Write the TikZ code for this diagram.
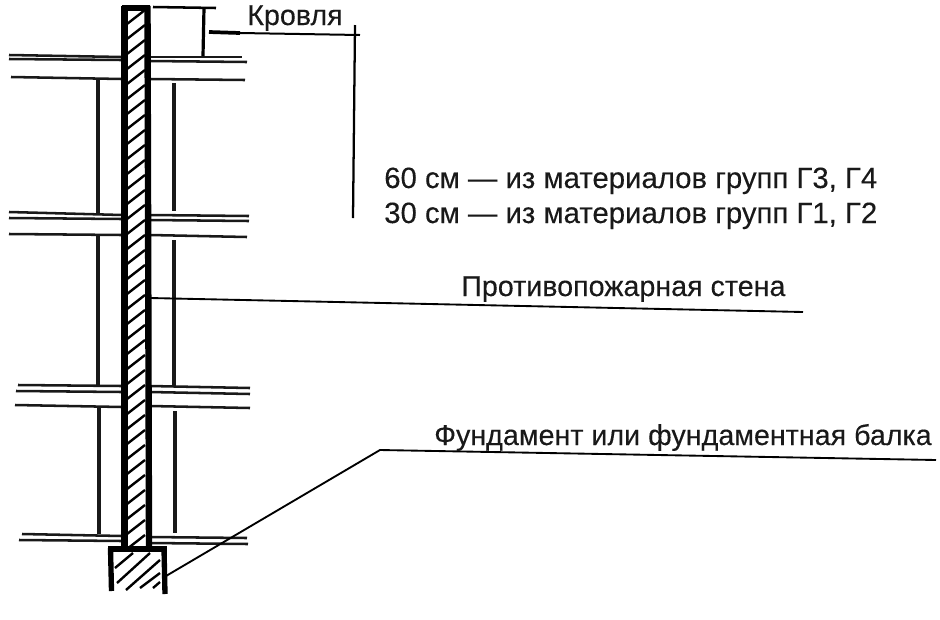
\documentclass[tikz,border=0pt]{standalone}
\usepackage{fontspec}
\setmainfont{Liberation Sans}
\newfontfamily\labfont[FakeBold=0.25]{Liberation Sans}
\tikzset{
  beam/.style={line width=1.9pt,black!90},
  post/.style={line width=2.3pt,black!90},
  thinl/.style={line width=1.4pt,black},
  wallside/.style={line width=4.8pt,black},
  hatchl/.style={line width=1.8pt,black},
  lab/.style={anchor=base west,inner sep=0pt,font=\labfont\fontsize{21.5}{24}\selectfont,text=black!90}
}
\begin{document}
\begin{tikzpicture}[x=0.75pt,y=-0.75pt]
\useasboundingbox (0,0) rectangle (940,619);
% floors
\foreach \xa/\ya/\xb/\yb in {
 9/55/122/57, 9/59/122/60, 11/77/122/79,
 150/57/242/57, 150/61/247/62, 150/79/245/80,
 9/212/122/215, 9/218/122/219, 9/234/122/235,
 150/215/249/216, 150/220/249/221, 150/235/247/237,
 18/385/122/386, 16/391/122/392, 15/405/122/407,
 150/386/250/388, 150/392/250/394, 150/406/250/408,
 22/534/122/536, 19/540/122/541,
 150/537/247/538, 150/543/248/544}
 \draw[beam] (\xa,\ya) -- (\xb,\yb);
% posts
\foreach \xa/\ya/\xb/\yb in {
 98/80/98/213, 98/236/98/385, 99/406/99/534,
 174/83/174/211, 174/240/174/386, 175/411/175/533}
 \draw[post] (\xa,\ya) -- (\xb,\yb);
% wall hatch
\begin{scope}
\clip (126,8) rectangle (146,548);
\foreach \y in {24,39,...,564}
  \draw[hatchl] (127,\y) -- (145,\y-14);
\end{scope}
% wall
\draw[wallside] (124.5,6) -- (124.5,548);
\draw[wallside] (147.5,6) -- (149,548);
\draw[wallside] (122,8) -- (150,8);
% foundation
\foreach \xa/\ya/\xb/\yb in {
 115/568/133/553, 117/583/150/553, 126/590/160/560, 140/588/160/573, 153/588/160/582}
 \draw[hatchl] (\xa,\ya) -- (\xb,\yb);
\draw[line width=4pt] (110.5,548) -- (111.5,591);
\draw[line width=4pt] (164,548) -- (165,594);
\draw[line width=3.8pt] (108,549) -- (167,549);
% dimension
\coordinate (dl) at (153,7);
\coordinate (dr) at (216,8);
\coordinate (dt) at (204,8);
\coordinate (db) at (203,56);
\coordinate (la) at (209,32);
\coordinate (lm) at (240,33);
\coordinate (lb) at (360,35);
\coordinate (vt) at (355,25);
\coordinate (vb) at (353,218);
\draw[line width=1.9pt] (dl) -- (dr);
\draw[line width=2.4pt] (dt) -- (db);
\draw[line width=2.8pt] (la) -- (lm);
\draw[line width=1.5pt] (lm) -- (lb);
\draw[line width=1.7pt] (vt) -- (vb);
% leaders
\coordinate (w1) at (150,298);
\coordinate (w2) at (803,312);
\draw[thinl] (w1) -- (w2);
\coordinate (f1) at (166,576);
\coordinate (f2) at (380,450);
\coordinate (f3) at (936,460);
\draw[thinl] (f1) -- (f2) -- (f3);
% labels
\node[lab] (krovlya) at (247,25) {Кровля};
\node[lab,font=\labfont\fontsize{22}{24}\selectfont] (l60) at (384,188) {60 см — из материалов групп Г3, Г4};
\node[lab,font=\labfont\fontsize{22}{24}\selectfont] (l30) at (384,223) {30 см — из материалов групп Г1, Г2};
\node[lab] (stena) at (461,296) {Противопожарная стена};
\node[lab] (fund) at (434,445) {Фундамент или фундаментная балка};
\end{tikzpicture}
\end{document}
